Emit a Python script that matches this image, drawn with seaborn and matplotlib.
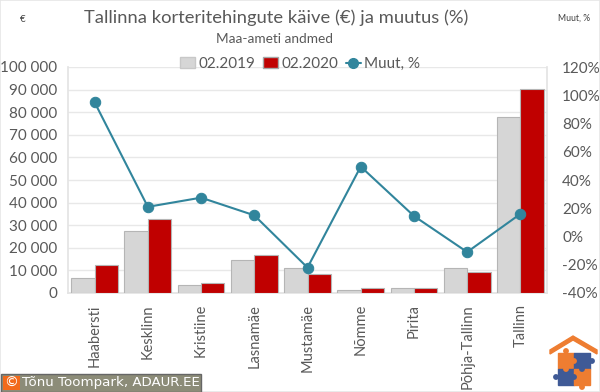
import pandas as pd
import seaborn as sns
import matplotlib.pyplot as plt
from matplotlib.lines import Line2D
from matplotlib.patches import Patch, Rectangle, Polygon, Circle

districts = ['Haabersti', 'Kesklinn', 'Kristiine', 'Lasnamäe', 'Mustamäe', 'Nõmme', 'Pirita', 'Põhja-Tallinn', 'Tallinn']
values_2019 = [6500, 27300, 3400, 14800, 11000, 1300, 2000, 10900, 78000]
values_2020 = [12400, 32900, 4300, 17000, 8500, 2000, 2300, 9500, 90300]
change_pct = [95, 21, 27.5, 15, -22, 49.5, 14.5, -11, 16]

left_ticks = [0, 10000, 20000, 30000, 40000, 50000, 60000, 70000, 80000, 90000, 100000]
right_ticks = [-40, -20, 0, 20, 40, 60, 80, 100, 120]

GREY = '#d6d6d6'
RED = '#c00000'
TEAL = '#31859c'
TEXT = '#595959'

bars = pd.DataFrame({'District': districts * 2,
                     'Value': values_2019 + values_2020,
                     'Period': ['02.2019'] * 9 + ['02.2020'] * 9})
line = pd.DataFrame({'District': districts, 'Change': change_pct})

sns.set_theme(style='white')
plt.rcParams['font.family'] = ['Lato', 'DejaVu Sans']

fig = plt.figure(figsize=(6, 3.92), dpi=100)
ax = fig.add_axes([68 / 600, 1 - 293 / 392, 479 / 600, 226 / 392])

sns.barplot(data=bars, x='District', y='Value', hue='Period', order=districts,
            palette=[GREY, RED], saturation=1, width=0.88, gap=0, edgecolor='#b5b5b5', linewidth=0.8,
            legend=False, ax=ax, zorder=3)
ax.set_ylim(0, 100000)
ax.set_xlim(-0.5, len(districts) - 0.5)
ax.set_yticks(left_ticks)
ax.set_yticklabels([f'{t:,}'.replace(',', ' ') for t in left_ticks])
ax.yaxis.grid(True, color='#e8e8e8', linewidth=1)
ax.set_axisbelow(True)
ax.set_xlabel('')
ax.set_ylabel('')
ax.tick_params(axis='y', labelsize=11, labelcolor=TEXT, length=0, pad=8)
ax.tick_params(axis='x', labelsize=10.5, labelcolor=TEXT, length=0, pad=8, rotation=90)
ax.spines['top'].set_visible(False)
for side in ['left', 'bottom', 'right']:
    ax.spines[side].set_color('#e4e4e4')

ax2 = ax.twinx()
sns.lineplot(data=line, x='District', y='Change', color=TEAL, linewidth=1.5, marker='o',
             markersize=7.5, markeredgecolor=TEAL, sort=False, ax=ax2, zorder=5)
ax2.set_ylim(-40, 120)
ax2.set_yticks(right_ticks)
ax2.set_yticklabels([f'{t}%' for t in right_ticks])
ax2.set_xlabel('')
ax2.set_ylabel('')
ax2.tick_params(axis='y', labelsize=11, labelcolor=TEXT, length=0, pad=11)
for spine in ax2.spines.values():
    spine.set_visible(False)

fig.text(276 / 600, 1 - 18 / 392, 'Tallinna korteritehingute käive (€) ja muutus (%)',
         ha='center', va='center', fontsize=13.2, color=TEXT)
fig.text(275 / 600, 1 - 39 / 392, 'Maa-ameti andmed', ha='center', va='center', fontsize=9.8, color=TEXT)
fig.text(23 / 600, 1 - 20 / 392, '€', ha='center', va='center', fontsize=7, color='#404040')
fig.text(574 / 600, 1 - 18 / 392, 'Muut, %', ha='center', va='center', fontsize=6.2, color='#404040')

handles = [Patch(facecolor=GREY, edgecolor='#c8c8c8'), Patch(facecolor=RED, edgecolor='#a6a6a6'),
           Line2D([], [], color=TEAL, linewidth=1.5, marker='o', markersize=7)]
fig.legend(handles, ['02.2019', '02.2020', 'Muut, %'], ncol=3, frameon=False, fontsize=11,
           labelcolor=TEXT, loc='center', bbox_to_anchor=(300 / 600, 1 - 64 / 392),
           handlelength=1.0, handletextpad=0.2, columnspacing=0.5, borderpad=0)

# faint frame of the picture
fig.patches.append(Rectangle((0, 0), 1, 1, transform=fig.transFigure, facecolor='none',
                             edgecolor='#e6e6e6', linewidth=1.2))

# copyright strip
fig.patches.append(Rectangle((1 / 600, 0.5 / 392), 200 / 600, 18 / 392, transform=fig.transFigure,
                             facecolor='#8c8c78', edgecolor='#666666', linewidth=1))
fig.patches.append(Rectangle((3 / 600, 2.5 / 392), 17 / 600, 14 / 392, transform=fig.transFigure,
                             facecolor='#f26a1b', edgecolor='none'))
fig.text(11.5 / 600, 9.5 / 392, '©', ha='center', va='center', fontsize=10, color='white', family='DejaVu Sans')
fig.text(22 / 600, 9.5 / 392, 'Tõnu Toompark, ADAUR.EE', ha='left', va='center', fontsize=9.6,
         color='white', family='DejaVu Sans')

# logo
logo = fig.add_axes([548 / 600, 0, 52 / 600, 67 / 392])
logo.set_xlim(548, 600)
logo.set_ylim(392, 325)
logo.axis('off')
logo.add_patch(Polygon([(550, 350), (573, 336), (597, 350), (597, 354), (573, 340), (550, 354)], color='#ee7d31'))
logo.add_patch(Rectangle((558, 353), 16, 16, color='#ee7d31'))
logo.add_patch(Rectangle((574, 353), 16, 16, color='#3f5a96'))
logo.add_patch(Rectangle((558, 369), 16, 16, color='#3f5a96'))
logo.add_patch(Rectangle((574, 369), 16, 16, color='#ee7d31'))
for (cx, cy, col) in [(574, 361, '#ee7d31'), (566, 369, '#ee7d31'), (582, 369, '#3f5a96'), (574, 377, '#3f5a96'),
                      (566, 351, '#ee7d31'), (592, 361, '#3f5a96'), (556, 377, '#3f5a96'), (582, 387, '#ee7d31')]:
    logo.add_patch(Circle((cx, cy), 2.2, color=col))

fig.savefig('out.png', dpi=100)
